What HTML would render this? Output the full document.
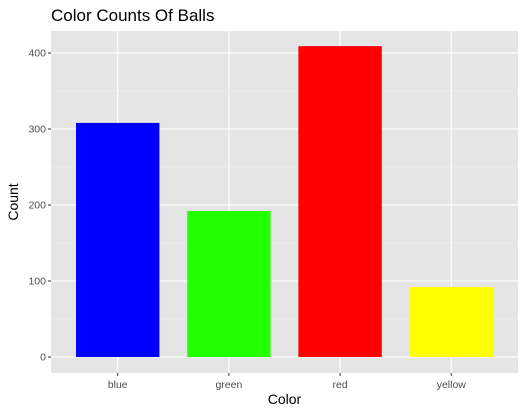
<!DOCTYPE html>
<html><head><meta charset="utf-8"><style>
body{margin:0;background:#fff;font-family:"Liberation Sans",sans-serif;}
</style></head><body>
<svg id="chart" width="525" height="415" xmlns="http://www.w3.org/2000/svg">
<text x="51" y="21" font-size="17" fill="#000">Color Counts Of Balls</text>
<rect x="51" y="31" width="467" height="342" fill="#e5e5e5"/>
<g id="grid"></g><g id="bars"></g><g id="axes"></g>
<text x="284.5" y="404" font-size="14" text-anchor="middle">Color</text>
<text transform="translate(18,202) rotate(-90)" font-size="14" text-anchor="middle">Count</text>
</svg>
<script>
const categories=["blue","green","red","yellow"];
const counts=[308,192,409,92];
const barColors=["#0000ff","#22ff00","#ff0000","#ffff00"];
const yTicks=[0,100,200,300,400];
const NS="http://www.w3.org/2000/svg";
const px0=51,px1=518,py0=357,pyScale=0.76;
const band=(px1-px0)/(categories.length+0.2);
function x(i){return px0+band*(i+0.6);}
function y(v){return py0-v*pyScale;}
function mk(t,a,p){const e=document.createElementNS(NS,t);for(const k in a)e.setAttribute(k,a[k]);document.getElementById(p).appendChild(e);return e;}
// minor gridlines
for(let i=0;i<yTicks.length-1;i++){const v=(yTicks[i]+yTicks[i+1])/2;
 const l=mk('line',{x1:px0,x2:px1,y1:y(v),y2:y(v),stroke:'#f2f2f2','stroke-width':0.6},'grid');
 
 }
yTicks.forEach(v=>{
 const l=mk('line',{x1:px0,x2:px1,y1:y(v),y2:y(v),stroke:'#fff','stroke-width':1.1},'grid');
 
 
 const t=mk('line',{x1:px0-3,x2:px0,y1:y(v),y2:y(v),stroke:'#333','stroke-width':1},'axes');
 
 
 const tx=mk('text',{x:px0-5,y:y(v)+3.5,'font-size':10.5,fill:'#4d4d4d','text-anchor':'end'},'axes');
 tx.textContent=v;
 
 
});
categories.forEach((c,i)=>{
 const g=mk('line',{x1:x(i),x2:x(i),y1:31,y2:373,stroke:'#fff','stroke-width':1.1},'grid');
 
 
 const w=band*0.75;
 const b=mk('rect',{x:x(i)-w/2,y:y(counts[i]),width:w,height:y(0)-y(counts[i]),fill:barColors[i]},'bars');
 
 
 const t=mk('line',{x1:x(i),x2:x(i),y1:373,y2:376,stroke:'#333','stroke-width':1},'axes');
 
 
 const tx=mk('text',{x:x(i),y:388,'font-size':10.5,fill:'#4d4d4d','text-anchor':'middle'},'axes');
 tx.textContent=c;
 
 
});
</script>
</body></html>
